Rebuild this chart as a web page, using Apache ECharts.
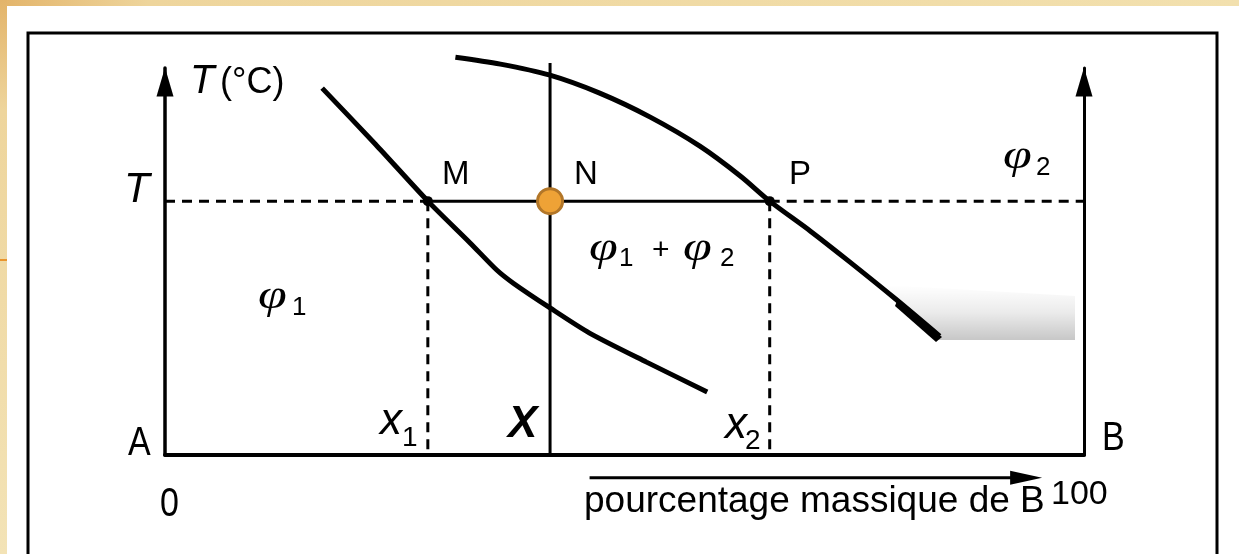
<!DOCTYPE html>
<html>
<head>
<meta charset="utf-8">
<script src="https://cdn.jsdelivr.net/npm/echarts@6/dist/echarts.min.js"></script>
<style>
  html, body { margin: 0; padding: 0; background: #fff; }
  #chart { width: 1239px; height: 554px; }
</style>
</head>
<body>
<div id="chart"></div>
<script>
// Binary phase diagram A–B: temperature vs mass percentage of B

// Composition axis (mass % of B) and temperature axis, arbitrary units
const compositionRange = [0, 100];
const temperatureRange = [0, 100];

// Isotherm at temperature T, overall composition X and phase compositions x1, x2
const levelT = 65.6;
const compX1 = 28.6;
const compX = 41.9;
const compX2 = 65.8;
const isoplethTop = 101.3;

// Boundary of the phi1 domain (through M)
const curvePhi1 = [
  [17.1, 94.8], [22.9, 80.3], [28.6, 65.6], [33.2, 54.8], [36.1, 47.8],
  [37.9, 44.4], [41.9, 38.0], [46.2, 31.5], [52.4, 24.0], [59.0, 16.3]
];

// Boundary of the phi2 domain (through P)
const curvePhi2 = [
  [31.6, 102.8], [36.5, 101.0], [41.8, 98.2], [47.3, 93.5], [52.8, 87.3],
  [58.2, 79.8], [62.6, 72.1], [65.8, 65.6], [70.2, 57.9], [74.5, 49.9],
  [79.5, 40.3], [84.3, 30.7]
];

// Arrow under the composition axis
const massArrow = [[46.2, -5.9], [93.7, -5.9]];

const chart = echarts.init(document.getElementById('chart'));

const SANS = '"Liberation Sans", Arial, sans-serif';
const GREEK = '"Liberation Serif", "DejaVu Serif", serif';
const INK = '#000';

function txt(text, x, y, size, extra) {
  const e = extra || {};
  return {
    type: 'text', x: x, y: y, z: 10,
    scaleX: e.scaleX || 1,
    style: {
      text: text, x: 0, y: 0,
      fill: INK,
      font: (e.style || 'normal') + ' ' + (e.weight || 'normal') + ' ' + size + 'px ' + (e.family || SANS),
      textVerticalAlign: 'middle', textAlign: 'left'
    }
  };
}

const phi = { family: GREEK, style: 'italic', scaleX: 1.3 };
const dashed = { type: [10, 7], width: 3, color: INK };

const option = {
  backgroundColor: '#fff',
  animation: false,
  grid: { left: 165, right: 155, top: 68, bottom: 99, containLabel: false },
  xAxis: {
    type: 'value', min: compositionRange[0], max: compositionRange[1],
    axisLine: { onZero: false, lineStyle: { color: INK, width: 4 } },
    axisTick: { show: false }, axisLabel: { show: false }, splitLine: { show: false }
  },
  yAxis: [
    {
      type: 'value', position: 'left', min: temperatureRange[0], max: temperatureRange[1],
      axisLine: {
        show: true, onZero: false,
        symbol: ['none', 'triangle'], symbolSize: [17, 29], symbolOffset: [0, -14],
        lineStyle: { color: INK, width: 3.5 }
      },
      axisTick: { show: false }, axisLabel: { show: false }, splitLine: { show: false }
    },
    {
      type: 'value', position: 'right', min: temperatureRange[0], max: temperatureRange[1],
      axisLine: {
        show: true, onZero: false,
        symbol: ['none', 'triangle'], symbolSize: [17, 29], symbolOffset: [0, -14],
        lineStyle: { color: INK, width: 3 }
      },
      axisTick: { show: false }, axisLabel: { show: false }, splitLine: { show: false }
    }
  ],
  series: [
    {
      name: 'phi1 boundary', type: 'line', data: curvePhi1, smooth: 0.25,
      showSymbol: false, clip: false, lineStyle: { color: INK, width: 5 }
    },
    {
      name: 'phi2 boundary', type: 'line', data: curvePhi2, smooth: 0.3,
      showSymbol: false, clip: false, lineStyle: { color: INK, width: 5 }
    },
    {
      name: 'tie line', type: 'line', data: [[compX1, levelT], [compX2, levelT]],
      showSymbol: false, lineStyle: { color: INK, width: 3 }
    },
    {
      name: 'isotherm', type: 'line',
      data: [[compositionRange[0], levelT], [compX1, levelT], ['-', '-'], [compX2, levelT], [compositionRange[1], levelT]],
      showSymbol: false, connectNulls: false, lineStyle: dashed
    },
    {
      name: 'x1 drop', type: 'line', data: [[compX1, levelT], [compX1, 0]],
      showSymbol: false, lineStyle: dashed
    },
    {
      name: 'x2 drop', type: 'line', data: [[compX2, levelT], [compX2, 0]],
      showSymbol: false, lineStyle: dashed
    },
    {
      name: 'isopleth X', type: 'line', data: [[compX, 0], [compX, isoplethTop]],
      showSymbol: false, clip: false, lineStyle: { color: INK, width: 3 }
    },
    {
      name: 'phase points', type: 'scatter', z: 5,
      data: [[compX1, levelT], [compX2, levelT]],
      symbolSize: 10, itemStyle: { color: INK, opacity: 1 }
    },
    {
      name: 'N', type: 'scatter', z: 6,
      data: [[compX, levelT]],
      symbolSize: 25,
      itemStyle: { color: '#EEA236', borderColor: '#B27628', borderWidth: 3, opacity: 1 }
    },
    {
      name: 'mass arrow', type: 'line', clip: false,
      data: [
        { value: massArrow[0], symbol: 'none' },
        { value: massArrow[1], symbol: 'triangle', symbolSize: [14, 32], symbolRotate: -90 }
      ],
      showSymbol: true, itemStyle: { color: INK, opacity: 1 },
      lineStyle: { color: INK, width: 3 }
    }
  ],
  graphic: [
    // paper edges
    { type: 'rect', z: 0, shape: { x: 0, y: 0, width: 1239, height: 6 },
      style: { fill: new echarts.graphic.LinearGradient(0, 0, 1, 0, [
        { offset: 0, color: '#E3B46A' }, { offset: 0.12, color: '#EED59C' }, { offset: 1, color: '#F2E0AE' }]) } },
    { type: 'rect', z: 0, shape: { x: 0, y: 0, width: 7, height: 554 },
      style: { fill: new echarts.graphic.LinearGradient(0, 0, 0, 1, [
        { offset: 0, color: '#E3B46A' }, { offset: 0.2, color: '#EED59C' }, { offset: 1, color: '#F3E3B6' }]) } },
    { type: 'rect', z: 1, shape: { x: 0, y: 259, width: 7, height: 2 }, style: { fill: '#E9952E' } },
    // frame
    { type: 'rect', z: 1, shape: { x: 28, y: 33, width: 1189, height: 525 },
      style: { fill: 'none', stroke: INK, lineWidth: 3 } },
    // grainy shading near the end of the phi2 boundary
    { type: 'polygon', z: 1, shape: { points: [[885, 285], [1075, 296], [1075, 340], [938, 340]] },
      style: { fill: new echarts.graphic.LinearGradient(0, 0, 0, 1, [
        { offset: 0, color: 'rgba(0,0,0,0.0)' }, { offset: 0.5, color: 'rgba(0,0,0,0.08)' },
        { offset: 1, color: 'rgba(0,0,0,0.22)' }]) } },
    { type: 'polygon', z: 3, shape: { points: [[897, 301], [942, 337], [936, 342], [895, 306]] },
      style: { fill: INK } },

    // axis texts
    txt('T', 190, 82, 40, { style: 'italic' }),
    txt('(°C)', 220, 83, 36),
    txt('T', 124, 190, 42, { style: 'italic' }),
    txt('A', 128, 444, 40, { scaleX: 0.85 }),
    txt('0', 160, 505, 40, { scaleX: 0.85 }),
    txt('B', 1102, 439, 40, { scaleX: 0.85 }),
    txt('100', 1051, 495, 34),
    txt('pourcentage massique de B', 584, 502, 37),

    // point names
    txt('M', 442, 175, 33),
    txt('N', 574, 175, 33),
    txt('P', 789, 175, 33),

    // compositions
    txt('x', 380, 422, 44, { style: 'italic' }),
    txt('1', 402, 438, 28),
    txt('X', 508, 425, 44, { style: 'italic', weight: 'bold' }),
    txt('x', 725, 426, 44, { style: 'italic' }),
    txt('2', 745, 441, 28),

    // phase domains
    txt('φ', 258, 297, 40, phi),
    txt('1', 292, 308, 26),
    txt('φ', 589, 249, 40, phi),
    txt('1', 619, 259, 26),
    txt('+', 652, 251, 30),
    txt('φ', 683, 249, 40, phi),
    txt('2', 720, 259, 26),
    txt('φ', 1003, 157, 40, phi),
    txt('2', 1036, 168, 26)
  ]
};

chart.setOption(option);
</script>
</body>
</html>
